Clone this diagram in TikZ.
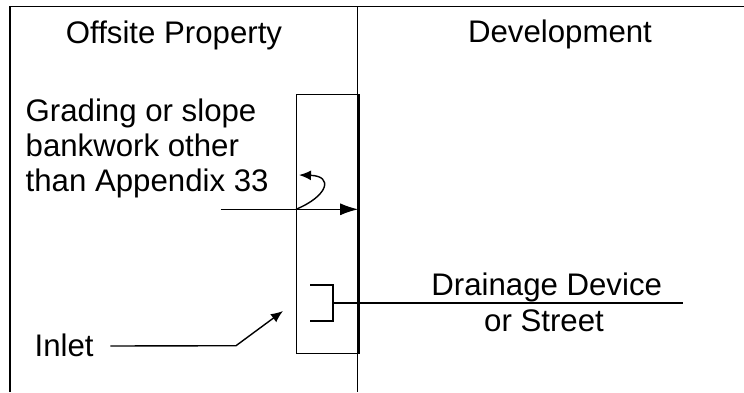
\documentclass[tikz,border=0pt]{standalone}
\usepackage{fontspec}
\setmainfont{Liberation Sans}
\usetikzlibrary{arrows.meta}
\tikzset{
	txt/.style={font=\fontsize{15.6}{17.5}\selectfont, inner sep=0pt},
	wall/.style={draw=black, line width=0.7pt, minimum width=30.4pt, minimum height=129.3pt, inner sep=0pt},
	bigtip/.style={-{Latex[length=9pt,width=6pt]}},
	smalltip/.style={-{Latex[length=6pt,width=5pt]}}
}

\begin{document}
\begin{tikzpicture}[x=0.5pt, y=-0.5pt, line width=0.7pt]

	\useasboundingbox (0,0) rectangle (744,392);

	% property lines
	\draw (10,392) -- (10,6.5) -- (744,6.5);
	\draw (357.5,6.5) -- (357.5,392);

	\node[txt, anchor=base] (offsite) at (174,43) {Offsite Property};
	\node[txt, anchor=base] (devel) at (560,42) {Development};

	\node[wall] (box) at (327.1,224) {};
	\draw[line width=1.5pt] (box.north east) -- (box.south east);

	\node[txt, anchor=base west, align=left] (grading) at (25,191.7) {Grading or slope\\bankwork other\\than Appendix 33};

	\coordinate (flow) at (220.6,209.3);
	\draw[bigtip] (flow) -- (flow -| box.east);
	\draw[smalltip] (flow -| box.west) .. controls (328,196) and (334,176) .. (299,175);

	% inlet
	\draw (310,285) -| (333,321) -- (310,321);
	\coordinate (mouth) at (333,303);
	\coordinate (street end) at (683,303);
	\draw (mouth) -- (street end);

	\node[txt, anchor=base] (drain) at (546.7,295) {Drainage Device};
	\node[txt, anchor=base] (street) at (544,331.7) {or Street};

	\node[txt, anchor=base west] (inlet) at (34,356) {Inlet};
	\coordinate (bend) at (236,345.7);
	\coordinate (inlet tip) at (283,311);
	\draw[smalltip] ([xshift=8pt, yshift=5pt]inlet.base east) -- (bend) -- (inlet tip);

\end{tikzpicture}
\end{document}
